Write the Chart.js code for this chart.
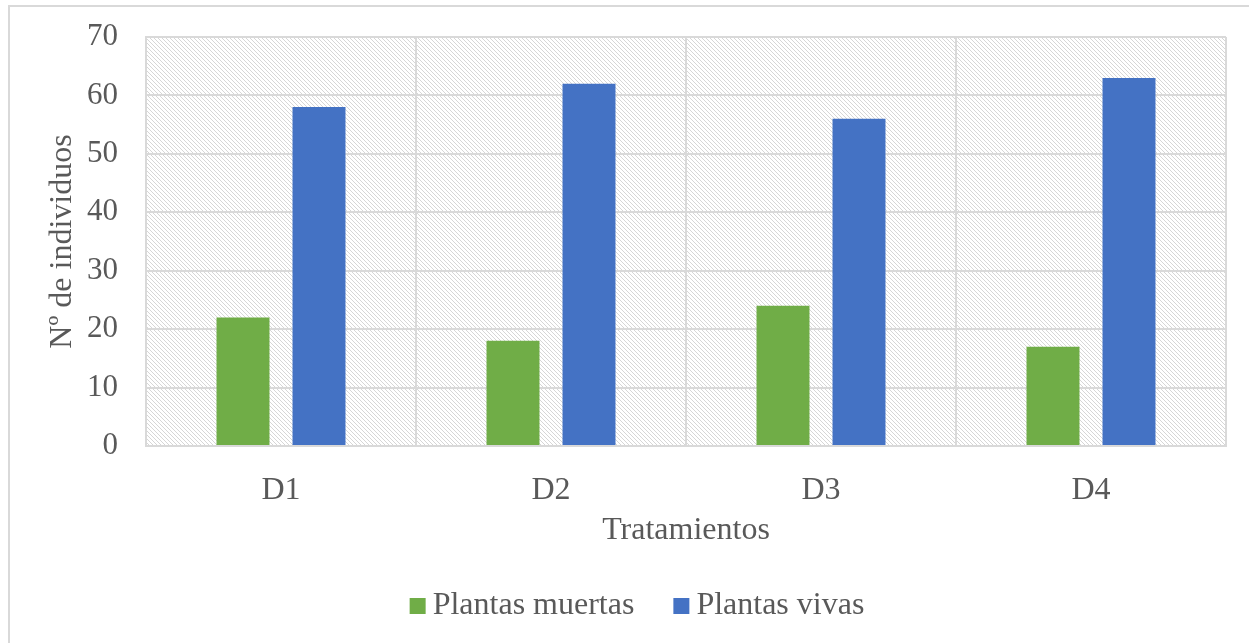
<!DOCTYPE html>
<html>
<head>
<meta charset="utf-8">
<script src="https://cdn.jsdelivr.net/npm/chart.js@4.4.1/dist/chart.umd.min.js"></script>
<style>
  html, body { margin: 0; padding: 0; background: #ffffff; }
  #wrap { width: 1249px; height: 643px; position: relative; }
</style>
</head>
<body>
<div id="wrap"><canvas id="c" width="1249" height="643"></canvas></div>
<script>
const categories = ['D1', 'D2', 'D3', 'D4'];
const plantasMuertas = [22, 18, 24, 17];
const plantasVivas = [58, 62, 56, 63];
const seriesNames = ['Plantas muertas', 'Plantas vivas'];
const seriesColors = ['#70ad47', '#4472c4'];
const yTitle = 'Nº de individuos';
const xTitle = 'Tratamientos';

const serif = "'Liberation Serif', 'Times New Roman', serif";
const fontSize = 32;
const tickSize = 31;
const textGrey = '#595959';
const gridGrey = '#d9d9d9';

// Light downward diagonal hatch for the plot area
function makeHatch() {
  const t = document.createElement('canvas');
  t.width = 8; t.height = 8;
  const g = t.getContext('2d');
  g.fillStyle = '#ffffff';
  g.fillRect(0, 0, 8, 8);
  g.fillStyle = '#d6d6d6';
  for (let y = 0; y < 8; y++) {
    for (let x = 0; x < 8; x++) {
      if (((x - y) % 4 + 4) % 4 === 0) g.fillRect(x, y, 1, 1);
    }
  }
  return g.createPattern(t, 'repeat');
}

const plotBackground = {
  id: 'plotBackground',
  beforeDraw(chart) {
    const { ctx, chartArea: a } = chart;
    ctx.save();
    ctx.fillStyle = makeHatch();
    ctx.fillRect(a.left, a.top, a.right - a.left, a.bottom - a.top);
    ctx.restore();
  }
};

// Outer frame plus a legend row centred under the axis title
const frameAndLegend = {
  id: 'frameAndLegend',
  afterDraw(chart) {
    const ctx = chart.ctx;
    ctx.save();
    ctx.strokeStyle = gridGrey;
    ctx.lineWidth = 2;
    ctx.strokeRect(9, 6, 1260, 660);

    const box = 16, gapText = 7, gapItem = 39;
    ctx.font = fontSize + 'px ' + serif;
    const items = chart.data.datasets.map(d => ({ label: d.label, color: d.backgroundColor, w: ctx.measureText(d.label).width }));
    let total = 0;
    items.forEach((it, i) => { total += box + gapText + it.w + (i ? gapItem : 0); });
    let x = 637 - total / 2;
    const cy = 606;
    ctx.textBaseline = 'middle';
    ctx.textAlign = 'left';
    items.forEach(it => {
      ctx.fillStyle = it.color;
      ctx.fillRect(x, cy - box / 2, box, box);
      ctx.fillStyle = textGrey;
      ctx.fillText(it.label, x + box + gapText, cy);
      x += box + gapText + it.w + gapItem;
    });
    ctx.restore();
  }
};

new Chart(document.getElementById('c'), {
  type: 'bar',
  data: {
    labels: categories,
    datasets: [
      { label: seriesNames[0], data: plantasMuertas, backgroundColor: seriesColors[0] },
      { label: seriesNames[1], data: plantasVivas, backgroundColor: seriesColors[1] }
    ]
  },
  options: {
    responsive: false,
    animation: false,
    devicePixelRatio: 1,
    layout: { padding: { left: 40, right: 23, top: 37, bottom: 93 } },
    datasets: { bar: { categoryPercentage: 0.563, barPercentage: 0.697 } },
    scales: {
      x: {
        afterFit(s) { s.height = 104; },
        grid: { color: gridGrey, lineWidth: 2, drawTicks: false, offset: true },
        border: { color: gridGrey, width: 2 },
        ticks: { color: textGrey, font: { family: serif, size: fontSize }, padding: 25 },
        title: { display: true, text: xTitle, color: textGrey, font: { family: serif, size: fontSize }, padding: { top: 0, bottom: 0 } }
      },
      y: {
        min: 0, max: 70,
        afterFit(s) { s.width = 106; },
        ticks: { stepSize: 10, color: textGrey, font: { family: serif, size: tickSize, lineHeight: 0.5 }, padding: 28 },
        grid: { color: gridGrey, lineWidth: 2, drawTicks: false },
        border: { color: gridGrey, width: 2 },
        title: { display: true, text: yTitle, color: textGrey, font: { family: serif, size: fontSize }, padding: { top: 3, bottom: 0 } }
      }
    },
    plugins: {
      legend: { display: false },
      tooltip: { enabled: false }
    }
  },
  plugins: [plotBackground, frameAndLegend]
});
</script>
</body>
</html>
